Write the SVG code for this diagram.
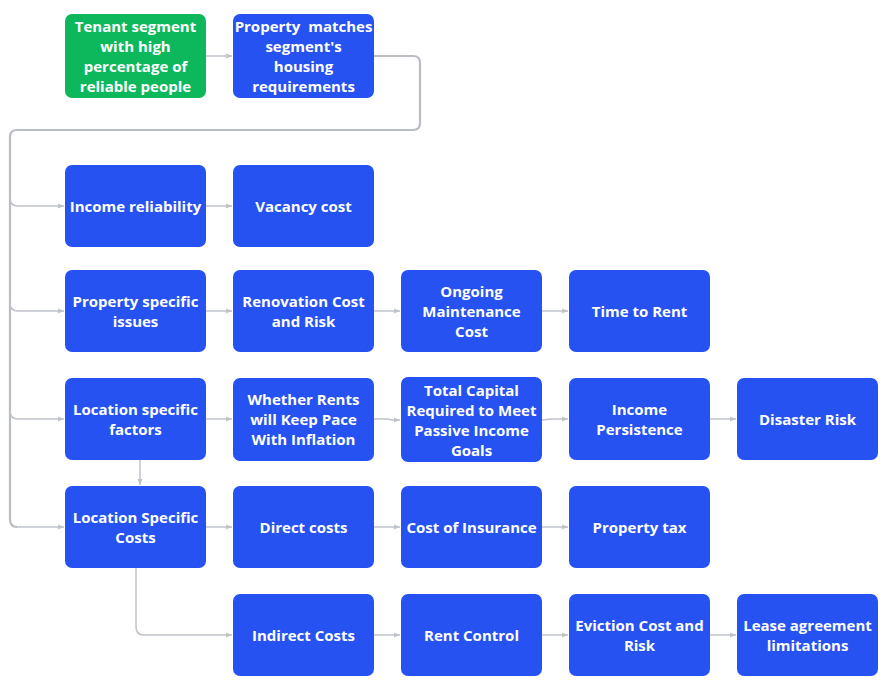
<svg xmlns="http://www.w3.org/2000/svg" width="890" height="680" viewBox="0 0 890 680">
<style>
.b{fill:#2652f2}
.g{fill:#0db85c}
text{font-family:"Open Sans","Liberation Sans",sans-serif;font-weight:700;font-size:15px;fill:#ffffff;text-anchor:middle;dominant-baseline:central}
.c{fill:none;stroke:#bfc3c9;stroke-width:1.5}
.t{fill:none;stroke:#b9bdc4;stroke-width:2.2}
</style>
<defs>
<marker id="a" viewBox="0 0 6 6" refX="6" refY="3" markerWidth="6" markerHeight="6" markerUnits="userSpaceOnUse" orient="auto">
<path d="M0,0.5 L6,3 L0,5.5 Z" fill="#bfc3c9"/>
</marker>
</defs>
<rect width="890" height="680" fill="#ffffff"/>
<g id="connectors">
<path class="c" d="M206,56 H232" marker-end="url(#a)"/>
<path class="t" d="M374,56 H413 Q420,56 420,63 V123 Q420,130 413,130 H17 Q10,130 10,137 V519 Q10,527 17,527"/>
<path class="c" d="M10,198 Q10,206 18,206 H64" marker-end="url(#a)"/>
<path class="c" d="M10,303 Q10,311 18,311 H64" marker-end="url(#a)"/>
<path class="c" d="M10,411 Q10,419 18,419 H64" marker-end="url(#a)"/>
<path class="c" d="M17,527 H64" marker-end="url(#a)"/>
<path class="c" d="M206,206 H232" marker-end="url(#a)"/>
<path class="c" d="M206,311 H232" marker-end="url(#a)"/>
<path class="c" d="M374,311 H400" marker-end="url(#a)"/>
<path class="c" d="M542,311 H568" marker-end="url(#a)"/>
<path class="c" d="M206,419 H232" marker-end="url(#a)"/>
<path class="c" d="M374,419 H386 Q390,419 392,420 L400,420" marker-end="url(#a)"/>
<path class="c" d="M542,420 Q548,419 556,419 H568" marker-end="url(#a)"/>
<path class="c" d="M710,419 H736" marker-end="url(#a)"/>
<path class="c" d="M140,460 V485" marker-end="url(#a)"/>
<path class="c" d="M206,527 H232" marker-end="url(#a)"/>
<path class="c" d="M374,527 H400" marker-end="url(#a)"/>
<path class="c" d="M542,527 H568" marker-end="url(#a)"/>
<path class="c" d="M136,568 V627 Q136,635 144,635 H232" marker-end="url(#a)"/>
<path class="c" d="M374,635 H400" marker-end="url(#a)"/>
<path class="c" d="M542,635 H568" marker-end="url(#a)"/>
<path class="c" d="M710,635 H736" marker-end="url(#a)"/>
</g>
<g id="n1"><rect class="g" x="65" y="14" width="141" height="84" rx="7"/><text x="135.5" y="26">Tenant segment</text><text x="135.5" y="46">with high</text><text x="135.5" y="66">percentage of</text><text x="135.5" y="86">reliable people</text></g>
<g id="n2"><rect class="b" x="233" y="14" width="141" height="84" rx="7"/><text x="303.5" y="26" xml:space="preserve">Property  matches</text><text x="303.5" y="46">segment's</text><text x="303.5" y="66">housing</text><text x="303.5" y="86">requirements</text></g>
<g id="n3"><rect class="b" x="65" y="165" width="141" height="82" rx="7"/><text x="135.5" y="206">Income reliability</text></g>
<g id="n4"><rect class="b" x="233" y="165" width="141" height="82" rx="7"/><text x="303.5" y="206">Vacancy cost</text></g>
<g id="n5"><rect class="b" x="65" y="270" width="141" height="82" rx="7"/><text x="135.5" y="301">Property specific</text><text x="135.5" y="321">issues</text></g>
<g id="n6"><rect class="b" x="233" y="270" width="141" height="82" rx="7"/><text x="303.5" y="301">Renovation Cost</text><text x="303.5" y="321">and Risk</text></g>
<g id="n7"><rect class="b" x="401" y="270" width="141" height="82" rx="7"/><text x="471.5" y="291">Ongoing</text><text x="471.5" y="311">Maintenance</text><text x="471.5" y="331">Cost</text></g>
<g id="n8"><rect class="b" x="569" y="270" width="141" height="82" rx="7"/><text x="639.5" y="311">Time to Rent</text></g>
<g id="n9"><rect class="b" x="65" y="378" width="141" height="82" rx="7"/><text x="135.5" y="409">Location specific</text><text x="135.5" y="429">factors</text></g>
<g id="n10"><rect class="b" x="233" y="378" width="141" height="83" rx="7"/><text x="303.5" y="399">Whether Rents</text><text x="303.5" y="419">will Keep Pace</text><text x="303.5" y="439">With Inflation</text></g>
<g id="n11"><rect class="b" x="401" y="377" width="141" height="85" rx="7"/><text x="471.5" y="390">Total Capital</text><text x="471.5" y="410">Required to Meet</text><text x="471.5" y="430">Passive Income</text><text x="471.5" y="450">Goals</text></g>
<g id="n12"><rect class="b" x="569" y="378" width="141" height="82" rx="7"/><text x="639.5" y="409">Income</text><text x="639.5" y="429">Persistence</text></g>
<g id="n13"><rect class="b" x="737" y="378" width="141" height="82" rx="7"/><text x="807.5" y="419">Disaster Risk</text></g>
<g id="n14"><rect class="b" x="65" y="486" width="141" height="82" rx="7"/><text x="135.5" y="517">Location Specific</text><text x="135.5" y="537">Costs</text></g>
<g id="n15"><rect class="b" x="233" y="486" width="141" height="82" rx="7"/><text x="303.5" y="527">Direct costs</text></g>
<g id="n16"><rect class="b" x="401" y="486" width="141" height="82" rx="7"/><text x="471.5" y="527">Cost of Insurance</text></g>
<g id="n17"><rect class="b" x="569" y="486" width="141" height="82" rx="7"/><text x="639.5" y="527">Property tax</text></g>
<g id="n18"><rect class="b" x="233" y="594" width="141" height="82" rx="7"/><text x="303.5" y="635">Indirect Costs</text></g>
<g id="n19"><rect class="b" x="401" y="594" width="141" height="82" rx="7"/><text x="471.5" y="635">Rent Control</text></g>
<g id="n20"><rect class="b" x="569" y="594" width="141" height="82" rx="7"/><text x="639.5" y="625">Eviction Cost and</text><text x="639.5" y="645">Risk</text></g>
<g id="n21"><rect class="b" x="737" y="594" width="141" height="82" rx="7"/><text x="807.5" y="625">Lease agreement</text><text x="807.5" y="645">limitations</text></g>
</svg>
